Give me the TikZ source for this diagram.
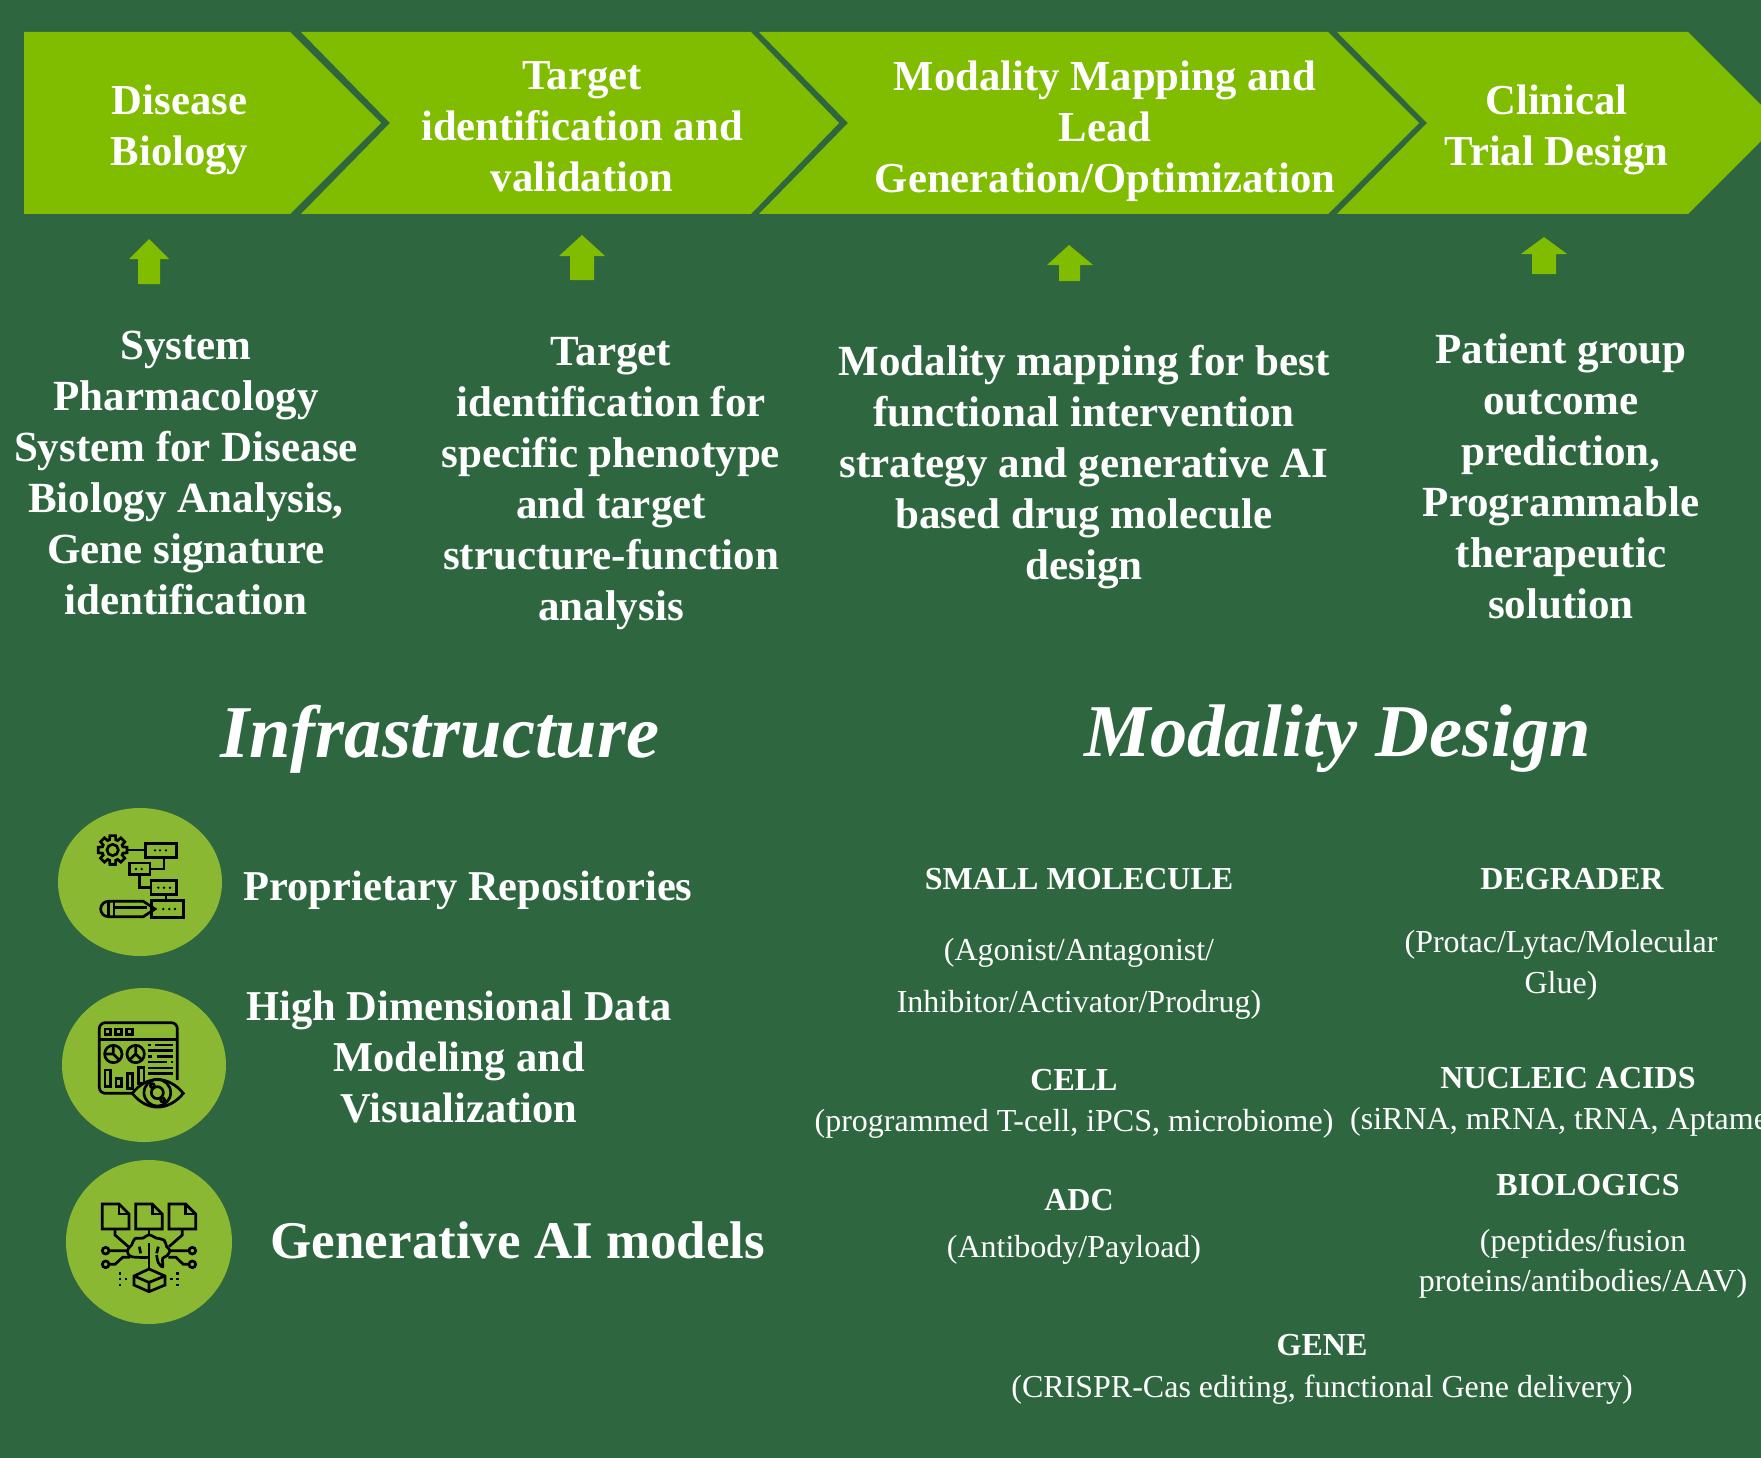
\documentclass[tikz,border=0pt]{standalone}
\usepackage{fontspec}
\setmainfont{Liberation Serif}
\definecolor{darkgreen}{HTML}{2E673F}
\definecolor{limegreen}{HTML}{80BC00}
\definecolor{olivedisc}{HTML}{8AB833}
\colorlet{col1}{darkgreen}
\colorlet{col2}{limegreen}
\colorlet{col3}{olivedisc}

\begin{document}
\begin{tikzpicture}[x=1pt, y=-1pt, text=white, align=center, inner sep=0pt,
		chevron/.style={fill=col2},
		uparrow/.style={fill=col2},
		disc/.style={fill=col3},
		steptext/.style={font=\fontsize{42.7}{51}\selectfont\bfseries},
		bodytext/.style={font=\fontsize{43}{51}\selectfont\bfseries},
		headtext/.style={font=\fontsize{74.5}{80}\selectfont\bfseries\itshape},
		infotext/.style={font=\fontsize{42.5}{51}\selectfont\bfseries},
		aitext/.style={font=\fontsize{53}{60}\selectfont\bfseries},
		kindtext/.style={font=\fontsize{32}{38}\selectfont\bfseries},
		subtext/.style={font=\fontsize{32}{38}\selectfont},
		icon/.style={scale=1/3, line width=2.7pt, draw=black},
		pip/.style={fill=black}]

	\useasboundingbox (0,0) rectangle (1761,1458);
	\fill[col1] (0,0) rectangle (1761,1458);
	\clip (0,0) rectangle (1761,1458);

	% process row
	\fill[chevron] (24,32) -- (290,32) -- (381,123) -- (290,214) -- (24,214) -- cycle;
	\fill[chevron] (301,32) -- (751,32) -- (839,123) -- (751,214) -- (301,214) -- (390,123) -- cycle;
	\fill[chevron] (759,32) -- (1328,32) -- (1419,123) -- (1328,214) -- (759,214) -- (848,123) -- cycle;
	\fill[chevron] (1337,32) -- (1688,32) -- (1779,123) -- (1688,214) -- (1337,214) -- (1427,123) -- cycle;
	\node[steptext] (disease) at (179.5,130) {Disease\\Biology};
	\node[steptext] (target) at (582,127) {Target\\identification and\\validation};
	\node[steptext] (modality) at (1105,131) {Modality Mapping and\\Lead\\Generation/Optimization};
	\node[steptext] (clinical) at (1556.5,130) {Clinical\\Trial Design};

	% block arrows
	\fill[uparrow] (149,239) -- (169,259) -- (160,259) -- (160,284) -- (138,284) -- (138,259) -- (129,259) -- cycle;
	\fill[uparrow] (582,235) -- (605,256) -- (594,256) -- (594,280) -- (570,280) -- (570,256) -- (559,256) -- cycle;
	\fill[uparrow] (1069,245) -- (1093,265) -- (1080,265) -- (1080,281) -- (1059,281) -- (1059,265) -- (1047,265) -- cycle;
	\fill[uparrow] (1544,237) -- (1567,254) -- (1556,254) -- (1556,274) -- (1532,274) -- (1532,254) -- (1521,254) -- cycle;

	% descriptions
	\node[bodytext] (sysbody) at (186,473) {System\\Pharmacology\\System for Disease\\Biology Analysis,\\Gene signature\\identification};
	\node[bodytext] (targetbody) at (611,484) {Target\\identification for\\specific phenotype\\and target\\structure-function\\analysis};
	\node[bodytext] (modalbody) at (1084,467.5) {Modality mapping for best\\functional intervention\\strategy and generative AI\\based drug molecule\\design};
	\node[bodytext] (patientbody) at (1561,476) {Patient group\\outcome\\prediction,\\Programmable\\therapeutic\\solution};

	% section titles
	\node[headtext] (infra) at (440,739) {Infrastructure};
	\node[headtext] (design) at (1337.5,739) {Modality Design};

	% left column
	\fill[disc] (140,882) ellipse [x radius=82, y radius=74];
	\fill[disc] (144,1065) ellipse [x radius=82, y radius=77];
	\fill[disc] (149,1242) ellipse [x radius=83, y radius=82];
	\node[infotext] (repos) at (468,890) {Proprietary Repositories};
	\node[infotext] (hidim) at (459,1057) {High Dimensional Data\\Modeling and\\Visualization};
	\node[aitext] (genai) at (518,1240) {Generative AI models};

	% repository icon
	\begin{scope}[shift={(40,790)}, icon]
		\draw (218,180) circle (17);
		\draw[shift={(218,180)}] (-11:44) \foreach \a in {0,45,...,315} { -- (\a+11:44) -- (\a+17:32) -- (\a+28:32) -- (\a+34:44) } -- cycle;
		\draw (262,180) -- (316,180);
		\draw (316,160) rectangle (410,202);
		\draw (372,202) -- (372,237) -- (330,237);
		\draw (268,219) rectangle (330,254);
		\draw (298,254) -- (298,293) -- (333,293);
		\draw (333,272) rectangle (410,314);
		\draw (378,314) -- (378,332);
		\draw (335,332) rectangle (430,382);
		\draw (205,334) -- (310,334) -- (345,357) -- (310,380) -- (205,380) arc [start angle=90, end angle=270, radius=23] -- cycle;
		\draw (205,334) -- (205,380) (222,334) -- (222,380);
		\draw (222,352) -- (322,352);
		\foreach \px/\py in {345/181,360/181,378/181,288/237,305/237,355/293,372/293,390/293,370/357,388/357,405/357}
			\fill[pip] (\px,\py) circle (4);
	\end{scope}

	% dashboard icon
	\begin{scope}[shift={(40,980)}, icon]
		\draw[rounded corners=6] (412,300) -- (412,128) -- (178,128) -- (178,340) -- (285,340);
		\draw (178,178) -- (412,178);
		\draw (195,147) rectangle (212,163) (227,147) rectangle (245,163) (260,147) rectangle (278,163);
		\draw (220,222) circle (26) (287,222) circle (26);
		\draw (194,222) -- (220,222) -- (220,196) (220,222) -- (238,240);
		\draw (287,196) -- (287,222) -- (268,240) (287,222) -- (306,240);
		\draw (325,195) -- (332,195) (345,195) -- (398,195) (325,212) -- (398,212);
		\draw (325,230) -- (335,230) (350,230) -- (398,230);
		\draw (325,246) -- (380,246) (392,246) -- (398,246);
		\draw (325,264) -- (398,264) (325,281) -- (398,281);
		\draw (195,270) rectangle (212,320) (228,295) rectangle (245,320);
		\draw (262,280) rectangle (278,325) (295,262) rectangle (312,310);
		\filldraw[fill=col3] (277,340) .. controls (320,285) and (385,285) .. (430,340) .. controls (385,395) and (320,395) .. (277,340) -- cycle;
		\draw (352,338) circle (40) (352,338) circle (18);
		\draw (337,317) circle (6) (368,360) circle (6);
	\end{scope}

	% generative model icon
	\begin{scope}[shift={(50,1150)}, icon]
		\foreach \dx in {0,100,200} {
			\draw[shift={(\dx,0)}] (157,162) -- (207,162) -- (237,192) -- (237,237) -- (157,237) -- cycle;
			\draw[shift={(\dx,0)}] (207,162) -- (207,192) -- (237,192);
		}
		\draw (195,237) -- (195,255) -- (235,290);
		\draw (297,237) -- (297,255);
		\draw (397,237) -- (397,255) -- (357,290);
		\draw (167,302) circle (10) (177,302) -- (235,302);
		\draw (167,343) circle (10) (177,343) -- (195,343) -- (218,322) -- (240,322);
		\draw (427,302) circle (10) (417,302) -- (360,302);
		\draw (427,343) circle (10) (417,343) -- (400,343) -- (378,322) -- (355,322);
		\draw plot[smooth, tension=.6] coordinates {(297,322) (245,320) (232,302) (245,285) (255,266) (280,264) (297,254) (318,264) (342,270) (350,290) (360,302) (350,318) (338,325) (338,350) (325,338) (320,315)};
		\draw (297,280) -- (297,357);
		\draw (268,290) -- (272,310) (325,290) -- (320,310);
		\draw (297,357) -- (345,378) -- (345,405) -- (297,425) -- (252,405) -- (252,378) -- cycle;
		\draw (252,378) -- (297,397) -- (345,378) (297,397) -- (297,425);
		\foreach \px/\py in {210/370,210/387,210/405,228/387,383/370,383/387,383/405,365/387}
			\fill[pip] (\px-4,\py-4) rectangle (\px+4,\py+4);
	\end{scope}

	% modality list
	\node[kindtext] (small) at (1079,879) {SMALL MOLECULE};
	\node[subtext] (smallA) at (1079,953) {(Agonist/Antagonist/};
	\node[subtext] (smallB) at (1079,1005) {Inhibitor/Activator/Prodrug)};
	\node[kindtext] (degrader) at (1572,879) {DEGRADER};
	\node[subtext] (degraderA) at (1561,945) {(Protac/Lytac/Molecular};
	\node[subtext] (degraderB) at (1561,986) {Glue)};
	\node[kindtext] (cell) at (1074,1080) {CELL};
	\node[subtext] (cellA) at (1074,1124) {(programmed T-cell, iPCS, microbiome)};
	\node[kindtext] (nucleic) at (1568,1078) {NUCLEIC ACIDS};
	\node[subtext, anchor=west] (nucleicA) at (1350,1122) {(siRNA, mRNA, tRNA, Aptamer)};
	\node[kindtext] (adc) at (1079,1200) {ADC};
	\node[subtext] (adcA) at (1074,1250) {(Antibody/Payload)};
	\node[kindtext] (biologics) at (1588,1185) {BIOLOGICS};
	\node[subtext] (biologicsA) at (1583,1244) {(peptides/fusion};
	\node[subtext] (biologicsB) at (1583,1284) {proteins/antibodies/AAV)};
	\node[kindtext] (gene) at (1322,1345) {GENE};
	\node[subtext] (geneA) at (1322,1390) {(CRISPR-Cas editing, functional Gene delivery)};
\end{tikzpicture}
\end{document}
